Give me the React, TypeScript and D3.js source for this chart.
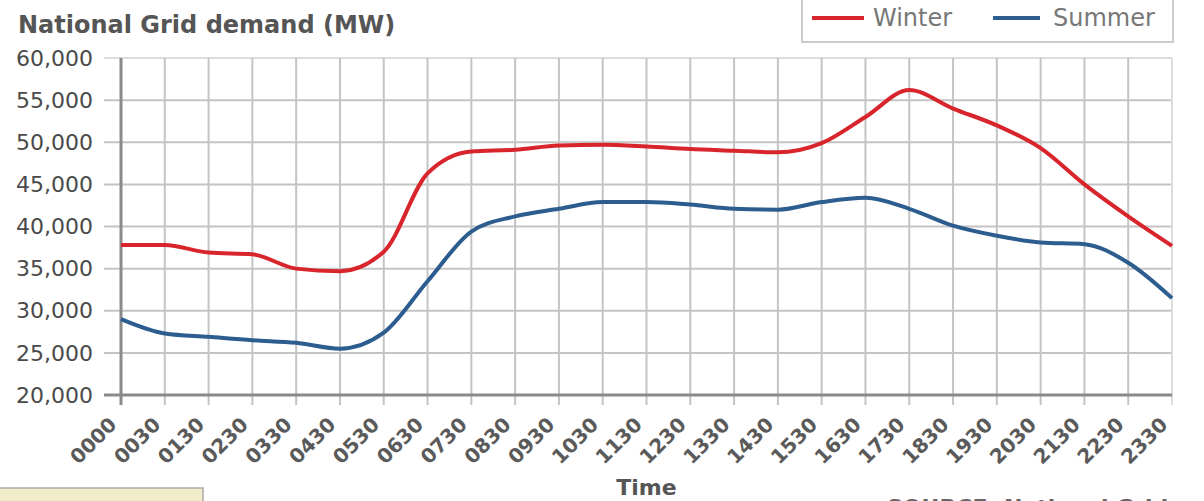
import * as d3 from "d3";

const times = [
  "0000", "0030", "0130", "0230", "0330", "0430", "0530", "0630", "0730",
  "0830", "0930", "1030", "1130", "1230", "1330", "1430", "1530", "1630",
  "1730", "1830", "1930", "2030", "2130", "2230", "2330",
];

const winter = [
  37800, 37800, 36900, 36700, 35000, 34700, 37000, 46300, 48900, 49100,
  49600, 49700, 49500, 49200, 49000, 48800, 49900, 53000, 56200, 54000,
  52000, 49300, 45000, 41200, 37700,
];

const summer = [
  29000, 27300, 26900, 26500, 26200, 25500, 27400, 33500, 39400, 41200,
  42100, 42900, 42900, 42600, 42100, 42000, 42900, 43400, 42100, 40100,
  38900, 38100, 37900, 35700, 31500,
];

const yTicks = [20000, 25000, 30000, 35000, 40000, 45000, 50000, 55000, 60000];

const series = [
  { name: "Winter", values: winter, color: "#d8252c" },
  { name: "Summer", values: summer, color: "#2c5d8e" },
];

export default function App() {
  const width = 1204;
  const height = 501;
  const left = 121;
  const right = 1172;
  const top = 58;
  const bottom = 395;

  const x = d3.scalePoint().domain(times).range([left, right]);
  const y = d3.scaleLinear().domain([20000, 60000]).range([bottom, top]);

  const line = d3
    .line<number>()
    .x((_, i) => x(times[i])!)
    .y((d) => y(d))
    .curve(d3.curveMonotoneX);

  const fmt = d3.format(",");

  return (
    <svg
      width={width}
      height={height}
      style={{ position: "absolute", left: 0, top: 0, background: "#fff" }}
      fontFamily="DejaVu Sans"
    >
      {/* title */}
      <text x={18} y={33} fontSize={24} fontWeight="bold" fill="#555">
        National Grid demand (MW)
      </text>

      {/* horizontal grid + y labels */}
      {yTicks.map((t) => (
        <g key={t}>
          <line
            x1={104}
            x2={right}
            y1={y(t)}
            y2={y(t)}
            stroke={t === 60000 ? "#ddd" : "#c4c4c4"}
            strokeWidth={2}
          />
          <text
            x={93}
            y={y(t)}
            dy="0.35em"
            textAnchor="end"
            fontSize={22}
            fill="#4a4a4a"
          >
            {fmt(t)}
          </text>
        </g>
      ))}

      {/* vertical grid + x labels */}
      {times.map((t, i) => (
        <g key={t}>
          <line
            x1={x(t)}
            x2={x(t)}
            y1={top}
            y2={405}
            stroke={i === times.length - 1 ? "#ddd" : "#c4c4c4"}
            strokeWidth={2}
          />
          <text
            transform={`translate(${x(t)! - 8},${421}) rotate(-45)`}
            textAnchor="end"
            dy="0.35em"
            fontSize={20}
            fontWeight="bold"
            fill="#5a5a5a"
          >
            {t}
          </text>
        </g>
      ))}

      {/* axes */}
      <line x1={left} x2={left} y1={top} y2={405} stroke="#8a8a8a" strokeWidth={3} />
      <line x1={104} x2={right} y1={bottom} y2={bottom} stroke="#8a8a8a" strokeWidth={3} />

      {/* series */}
      {series.map((s) => (
        <path
          key={s.name}
          d={line(s.values)!}
          fill="none"
          stroke={s.color}
          strokeWidth={4}
          strokeLinejoin="round"
        />
      ))}

      {/* axis title */}
      <text x={(left + right) / 2} y={495} textAnchor="middle" fontSize={22} fontWeight="bold" fill="#555">
        Time
      </text>

      {/* legend */}
      <rect x={802} y={-5} width={371} height={47} fill="#fff" stroke="#ccc" strokeWidth={2} />
      <line x1={812} x2={864} y1={18} y2={18} stroke={series[0].color} strokeWidth={4} />
      <text x={873} y={26} fontSize={24} fill="#777">
        Winter
      </text>
      <line x1={993} x2={1040} y1={18} y2={18} stroke={series[1].color} strokeWidth={4} />
      <text x={1053} y={26} fontSize={24} fill="#777">
        Summer
      </text>

      {/* footer bits */}
      <rect x={-2} y={488} width={205} height={20} fill="#f1ecc9" stroke="#aaa" strokeWidth={1.5} />
      <text x={887} y={515} fontSize={22} fontWeight="bold" fill="#666">
        SOURCE: National Grid
      </text>
    </svg>
  );
}
